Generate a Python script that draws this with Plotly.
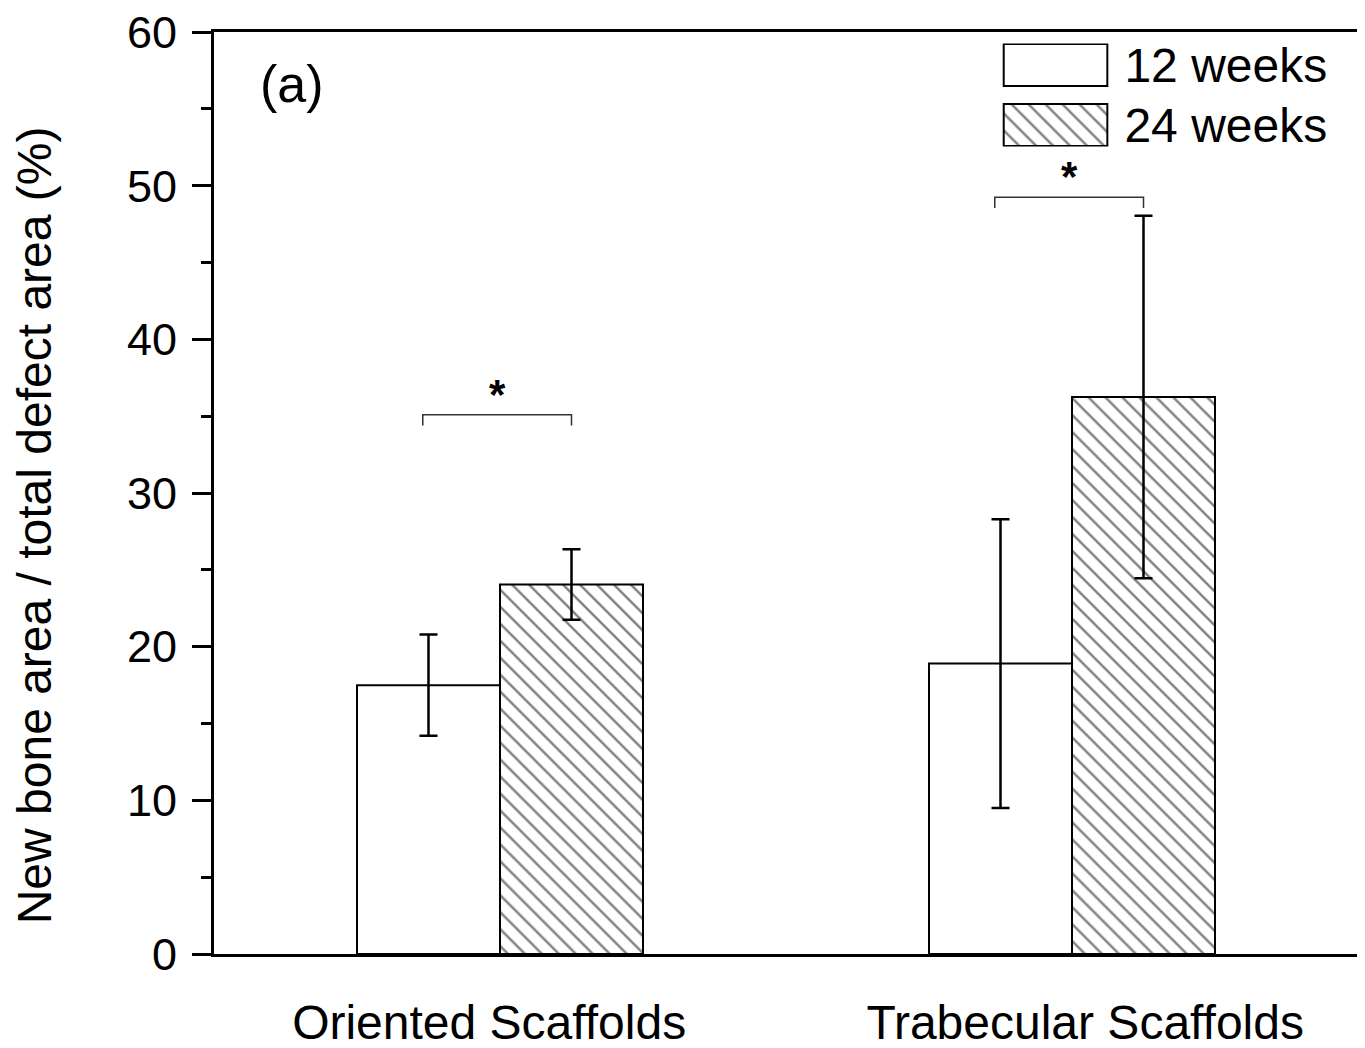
import plotly.graph_objects as go

categories = ["Oriented Scaffolds", "Trabecular Scaffolds"]
series_names = ["12 weeks", "24 weeks"]
values_12w = [17.5, 18.9]
errors_12w = [3.3, 9.4]
values_24w = [24.05, 36.25]
errors_24w = [2.3, 11.8]
bracket_heights = [35.1, 49.25]
bracket_labels = ["*", "*"]

FONT = "Arial, Liberation Sans, sans-serif"
xpos = list(range(len(categories)))
LABEL_NUDGE = [-0.019, 0.023]  # small horizontal offsets of category labels (style)
HATCH = dict(shape="\\", fgcolor="black", bgcolor="white", size=12, solidity=0.2)

fig = go.Figure()

fig.add_trace(go.Bar(
    x=xpos, y=values_12w, name=series_names[0],
    marker=dict(color="white", line=dict(color="black", width=2)),
    error_y=dict(type="data", array=errors_12w, visible=True, color="black", thickness=2.5, width=9),
    showlegend=False,
))
fig.add_trace(go.Bar(
    x=xpos, y=values_24w, name=series_names[1],
    marker=dict(color="white", line=dict(color="black", width=2), pattern=HATCH),
    error_y=dict(type="data", array=errors_24w, visible=True, color="black", thickness=2.5, width=9),
    showlegend=False,
))

# legend drawn as an inset of swatch bars
fig.add_trace(go.Bar(
    x=[1], y=[series_names[0]], orientation="h", xaxis="x2", yaxis="y2", width=0.7,
    marker=dict(color="white", line=dict(color="black", width=2)), showlegend=False,
    hoverinfo="skip",
))
fig.add_trace(go.Bar(
    x=[1], y=[series_names[1]], orientation="h", xaxis="x2", yaxis="y2", width=0.7,
    marker=dict(color="white", line=dict(color="black", width=2), pattern=HATCH),
    showlegend=False, hoverinfo="skip",
))

# significance brackets
half = 0.125
for i, (h, lab) in enumerate(zip(bracket_heights, bracket_labels)):
    x0 = xpos[i] - half - 0.01
    x1 = xpos[i] + half
    drop = 0.7
    fig.add_shape(type="path",
                  path=f"M {x0} {h - drop} L {x0} {h} L {x1} {h} L {x1} {h - drop}",
                  xref="x", yref="y", line=dict(color="#333333", width=1.5))
    fig.add_annotation(x=(x0 + x1) / 2, y=h, xref="x", yref="y", text=f"<b>{lab}</b>",
                       showarrow=False, yanchor="bottom", xanchor="center", yshift=-5,
                       font=dict(family=FONT, size=42, color="black"))

fig.add_annotation(x=0.068, y=0.9435, xref="paper", yref="paper", text="(a)", showarrow=False,
                   xanchor="center", yanchor="middle",
                   font=dict(family=FONT, size=52, color="black"))
fig.add_annotation(x=-0.1573, y=0.465, xref="paper", yref="paper",
                   text="New bone area / total defect area (%)", textangle=-90, showarrow=False,
                   xanchor="center", yanchor="middle",
                   font=dict(family=FONT, size=48, color="black"))

fig.update_layout(
    width=1357, height=1040,
    margin=dict(l=206, r=7, t=24, b=94, autoexpand=False),
    paper_bgcolor="white", plot_bgcolor="white",
    barmode="group", bargap=0.5, bargroupgap=0,
    showlegend=False,
    font=dict(family=FONT, color="black"),
    xaxis=dict(
        range=[-0.5, 1.5], tickvals=[p + d for p, d in zip(xpos, LABEL_NUDGE)], ticktext=categories,
        showline=True, linewidth=3, linecolor="black", mirror=True,
        ticks="", showgrid=False, zeroline=False, automargin=False,
        tickfont=dict(family=FONT, size=48, color="black"),
        ticklabelstandoff=24,
    ),
    yaxis=dict(
        range=[0, 60.01], tickvals=[0, 10, 20, 30, 40, 50, 60],
        showline=True, linewidth=3, linecolor="black", mirror=True,
        ticks="outside", ticklen=19, tickwidth=3, tickcolor="black",
        minor=dict(tickvals=[5, 15, 25, 35, 45, 55], ticks="outside", ticklen=10, tickwidth=3,
                   tickcolor="black", showgrid=False),
        showgrid=False, zeroline=False, automargin=False,
        tickfont=dict(family=FONT, size=45, color="black"),
        ticklabelstandoff=6, ticklabeloverflow="allow",
    ),
    xaxis2=dict(domain=[0.6885, 0.7827], anchor="y2", range=[-0.02, 1.02], visible=False,
                fixedrange=True, automargin=False),
    yaxis2=dict(domain=[0.8758, 0.9876], anchor="x2", side="right", range=[-0.36, 1.36],
                categoryorder="array", categoryarray=[series_names[1], series_names[0]],
                showline=False, showgrid=False, zeroline=False, ticks="", automargin=False,
                tickfont=dict(family=FONT, size=48, color="black"), ticklabelstandoff=14,
                fixedrange=True),
)

fig.write_html("out.html")
